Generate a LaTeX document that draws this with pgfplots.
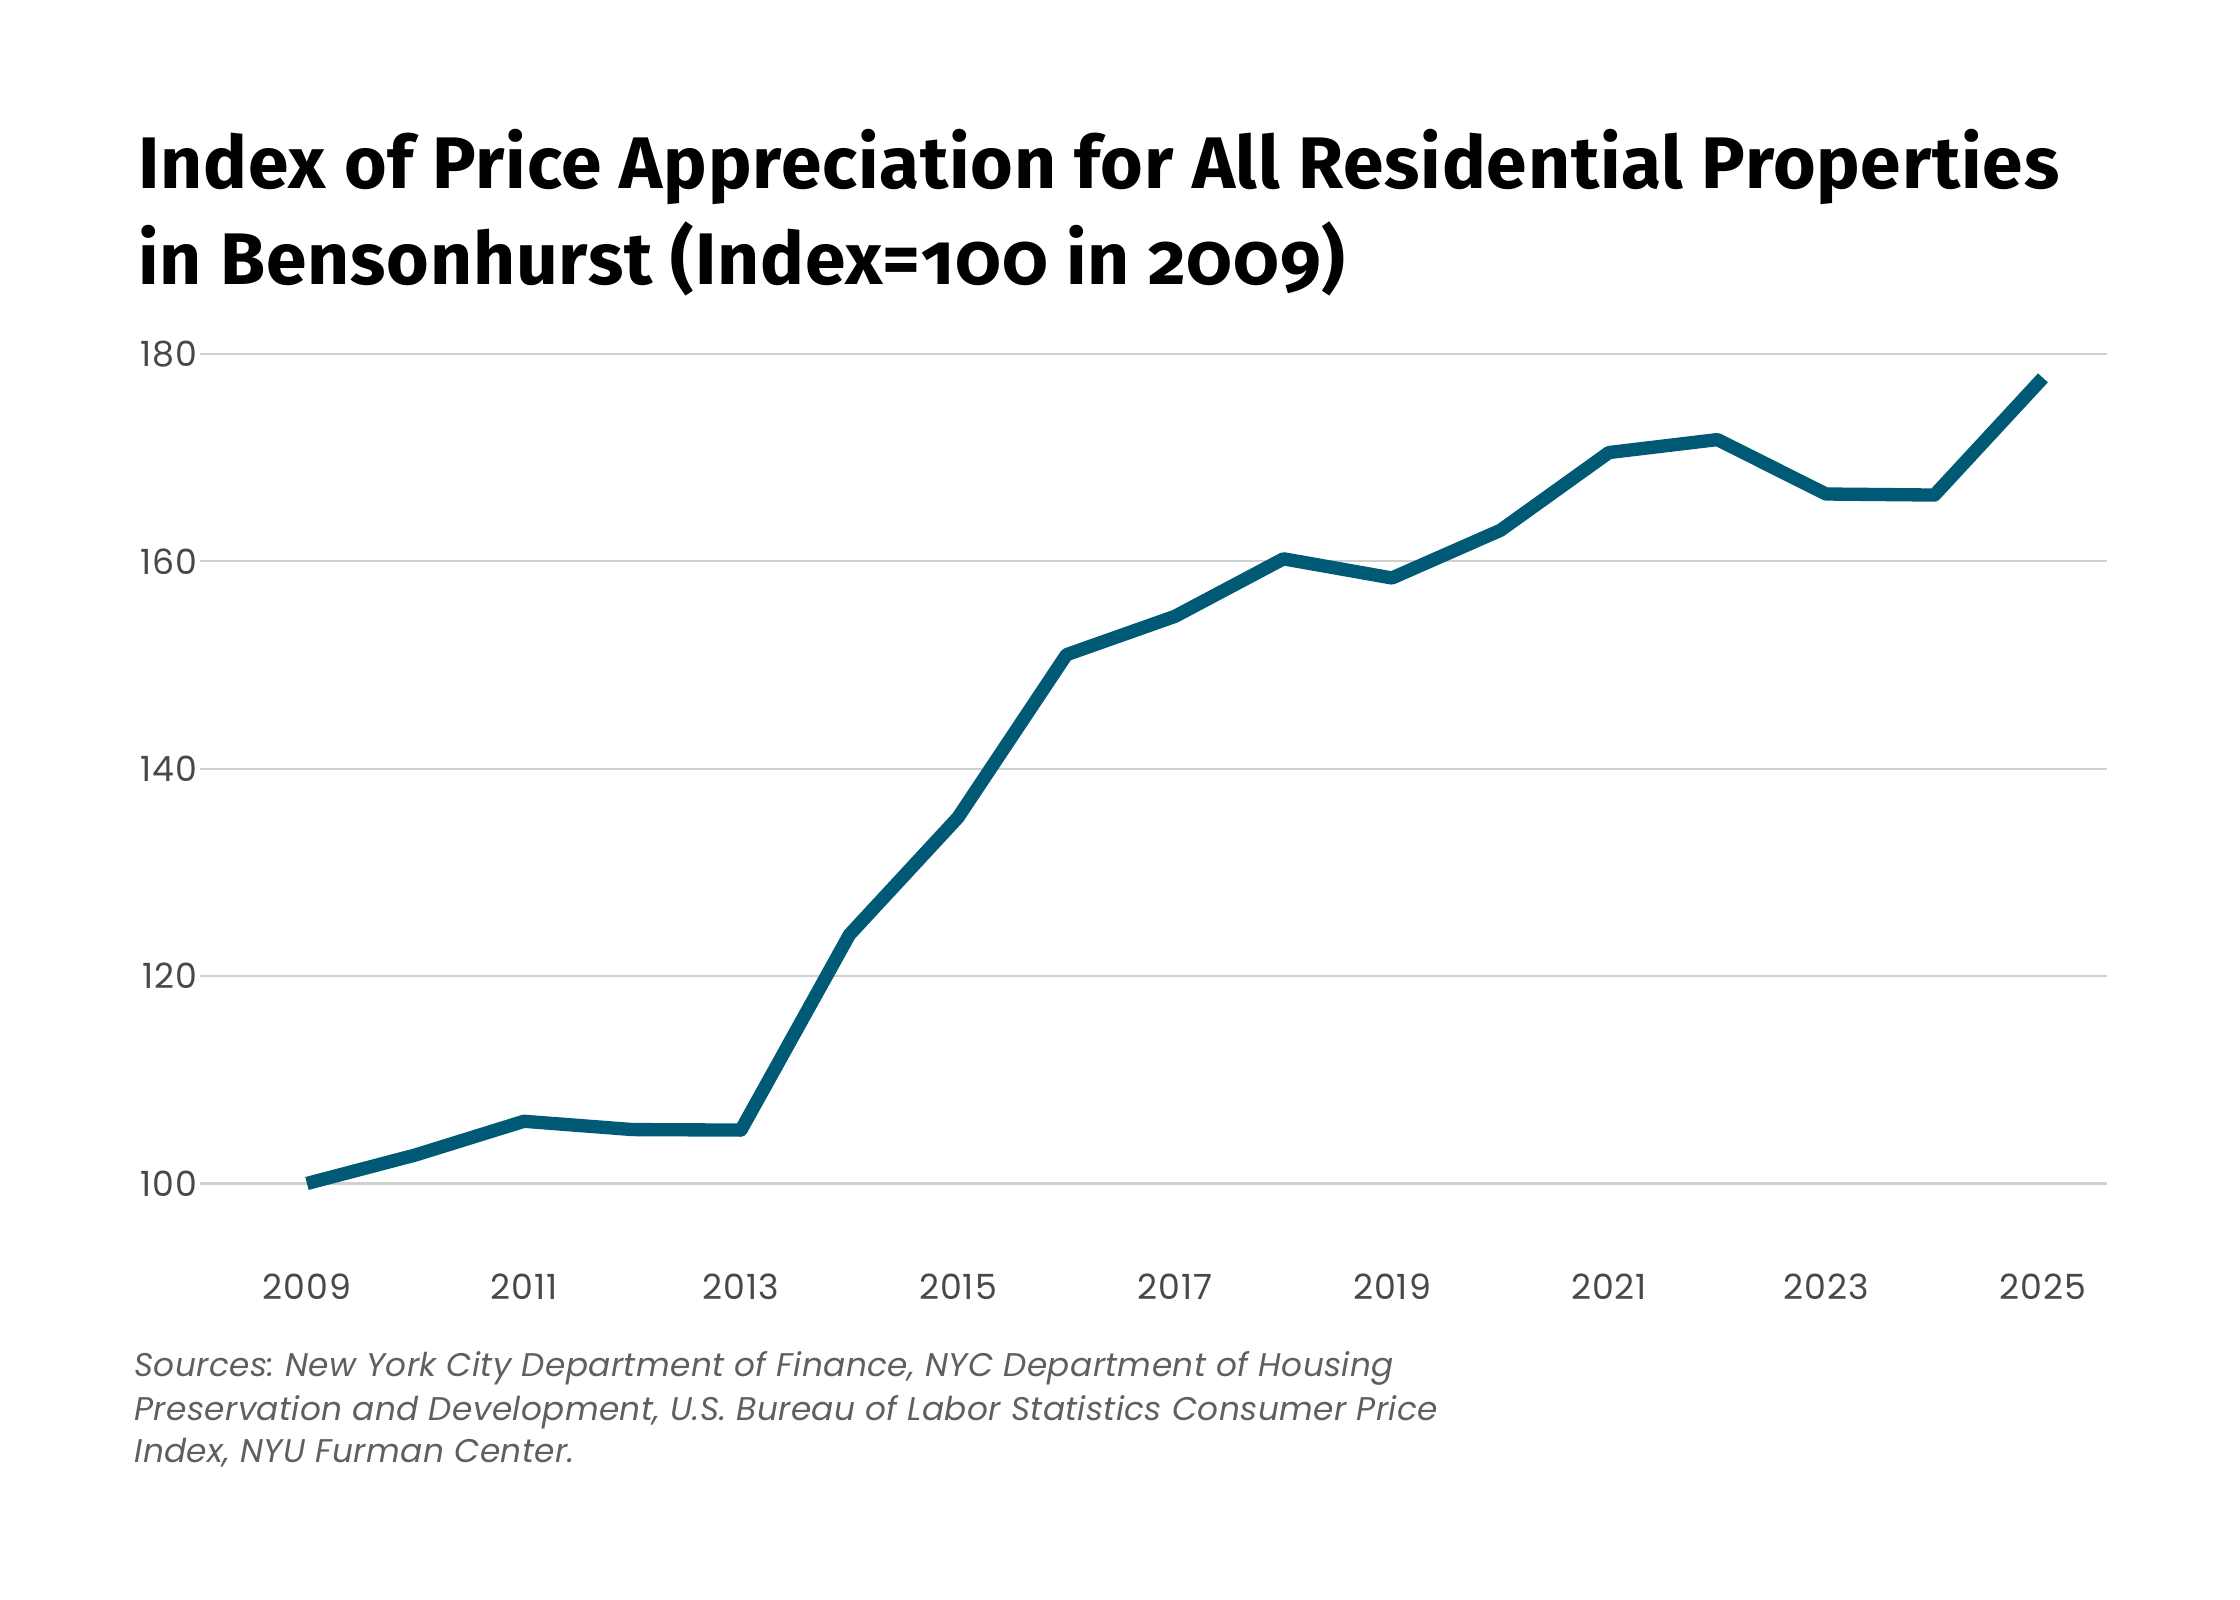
\documentclass[border=0pt]{standalone}
\usepackage{fontspec}
\usepackage{pgfplots}
\pgfplotsset{compat=1.18}
\setmainfont{Poppins}
\newfontfamily\titlefont{Fira Sans}[Numbers=OldStyle, LetterSpace=1.2]
\newfontfamily\tickfont{Poppins}[LetterSpace=3]
\newfontfamily\srcfont{Poppins}[LetterSpace=1.2]
\definecolor{linecol}{RGB}{0,90,118}
\definecolor{gridcol}{RGB}{208,208,208}
\definecolor{tickcol}{RGB}{72,72,72}
\definecolor{srccol}{RGB}{95,95,95}
\frenchspacing
\begin{document}
\begin{tikzpicture}
\path[use as bounding box, fill=white] (0,0) rectangle (806.4pt,576pt);
\node[anchor=base west, inner sep=0pt, font=\titlefont\bfseries\fontsize{26.3}{30}\selectfont] at (49.68pt,507.96pt) {Index of Price Appreciation for All Residential Properties};
\node[anchor=base west, inner sep=0pt, font=\titlefont\bfseries\fontsize{26.3}{30}\selectfont] at (49.68pt,473.4pt) {in Bensonhurst (Index=100 in 2009)};
\begin{axis}[
  at={(72pt,127.55pt)}, anchor=south west,
  scale only axis, width=686.5pt, height=321.0pt,
  xmin=2008.014, xmax=2025.59, ymin=94, ymax=180,
  xtick={2009,2011,...,2025}, ytick={100,120,...,180},
  ymajorgrids, grid style={gridcol, line width=0.75pt},
  axis line style={draw=none}, major tick length=0pt,
  clip=false,
  /pgf/number format/1000 sep={},
  /pgf/number format/assume math mode=true,
  tick label style={font=\tickfont\fontsize{12.5}{13}\selectfont, text=tickcol},
  xticklabel style={anchor=base, inner sep=0pt, yshift=-19.26pt},
  yticklabel style={anchor=east, inner sep=0pt, xshift=-0.7pt},
]
\addplot[linecol, line width=4.8pt, line join=round, line cap=butt] coordinates {
(2009,100.0) (2010,102.75) (2011,106.0) (2012,105.2) (2013,105.15)
(2014,124.0) (2015,135.3) (2016,151.0) (2017,154.7) (2018,160.25)
(2019,158.4) (2020,163.0) (2021,170.5) (2022,171.75) (2023,166.5)
(2024,166.4) (2025,177.7)
};
\end{axis}
\begin{scope}[every node/.style={anchor=base west, inner sep=0pt, text=srccol, font=\srcfont\itshape\fontsize{11.8}{14}\selectfont}]
\node at (48.24pt,80.39pt) {Sources: New York City Department of Finance, NYC Department of Housing};
\node at (48.24pt,64.55pt) {Preservation and Development, U.S. Bureau of Labor Statistics Consumer Price};
\node at (48.24pt,49.43pt) {Index, NYU Furman Center.};
\end{scope}
\end{tikzpicture}
\end{document}
